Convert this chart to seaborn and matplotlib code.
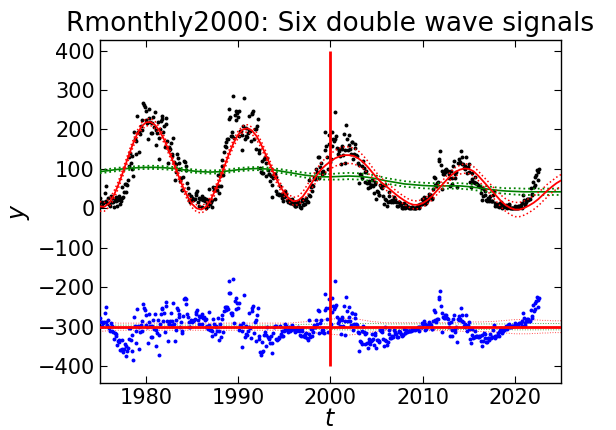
import numpy as np
import pandas as pd
import matplotlib
matplotlib.use("Agg")
import matplotlib.pyplot as plt
import seaborn as sns

# ---------------- data ----------------
start_year = 1975
# monthly observations (black dots), Jan 1975 onward
obs_1975_1984 = [
    26, 16, 16, 7, 13, 16, 39, 56, 19, 13, 27, 11,
    11, 6, 31, 26, 17, 17, 3, 23, 19, 29, 7, 21,
    23, 32, 12, 18, 26, 54, 30, 42, 62, 61, 41, 60,
    73, 131, 107, 140, 116, 133, 99, 81, 193, 175, 137, 172,
    233, 193, 193, 142, 188, 209, 223, 199, 268, 261, 257, 247,
    223, 217, 177, 230, 252, 220, 191, 190, 217, 231, 207, 244,
    160, 198, 190, 219, 179, 126, 201, 222, 234, 227, 193, 210,
    156, 229, 215, 171, 115, 155, 149, 151, 166, 133, 137, 178,
    118, 71, 93, 113, 139, 128, 115, 101, 70, 78, 47, 47,
    80, 120, 117, 98, 107, 65, 52, 36, 22, 17, 32, 26,
]
obs_1985_1994 = [
    23, 22, 24, 23, 39, 34, 43, 16, 5, 26, 23, 24,
    4, 32, 21, 26, 19, 2, 25, 10, 5, 50, 21, 10,
    15, 3, 21, 55, 46, 24, 46, 54, 47, 85, 56, 38,
    83, 56, 107, 123, 84, 143, 159, 156, 168, 175, 175, 251,
    226, 231, 184, 183, 194, 285, 178, 236, 247, 223, 242, 232,
    248, 183, 196, 196, 185, 148, 209, 280, 175, 204, 184, 182,
    192, 235, 199, 196, 170, 238, 243, 247, 175, 202, 151, 202,
    210, 226, 149, 140, 103, 91, 120, 90, 89, 124, 129, 116,
    83, 127, 98, 87, 86, 70, 81, 59, 30, 76, 88, 86,
    80, 44, 37, 37, 36, 33, 57, 34, 27, 37, 19, 29,
]
obs_1995_2004 = [
    32, 43, 36, 22, 15, 25, 18, 13, 14, 25, 14, 12,
    16, 7, 6, 7, 13, 18, 14, 11, 4, 1, 25, 19,
    8, 11, 12, 22, 26, 18, 15, 34, 72, 32, 55, 58,
    45, 56, 77, 75, 79, 99, 93, 129, 130, 78, 104, 115,
    87, 93, 96, 89, 149, 193, 159, 131, 100, 163, 186, 118,
    126, 158, 194, 176, 170, 175, 244, 183, 154, 139, 150, 146,
    134, 113, 159, 151, 135, 188, 115, 149, 211, 176, 149, 185,
    160, 150, 138, 169, 169, 124, 139, 163, 153, 136, 133, 114,
    111, 64, 86, 84, 77, 108, 119, 102, 68, 92, 94, 65,
    52, 64, 69, 55, 58, 60, 72, 57, 39, 67, 61, 25,
]
obs_2005_2014 = [
    44, 41, 34, 34, 60, 55, 56, 51, 31, 12, 25, 58,
    21, 7, 15, 42, 31, 19, 17, 18, 20, 15, 30, 19,
    24, 15, 6, 5, 16, 17, 14, 8, 3, 1, 2, 14,
    3, 2, 9, 3, 3, 3, 1, 0, 1, 3, 4, 1,
    2, 2, 1, 2, 4, 9, 8, 0, 10, 11, 10, 23,
    20, 29, 24, 10, 14, 19, 25, 30, 36, 34, 34, 25,
    27, 48, 79, 76, 58, 56, 65, 66, 120, 126, 145, 109,
    94, 48, 87, 86, 97, 92, 100, 95, 94, 77, 88, 57,
    96, 61, 78, 107, 120, 77, 86, 92, 55, 114, 114, 124,
    117, 146, 129, 113, 113, 103, 100, 107, 130, 90, 104, 113,
]
obs_2015_2022 = [
    93, 67, 55, 75, 89, 67, 66, 64, 79, 64, 62, 58,
    57, 56, 54, 38, 52, 21, 32, 50, 45, 33, 21, 19,
    26, 26, 18, 32, 19, 19, 18, 33, 44, 13, 6, 8,
    7, 11, 3, 9, 13, 16, 2, 9, 3, 5, 5, 3,
    8, 1, 9, 9, 10, 1, 1, 1, 1, 0, 1, 2,
    6, 0, 2, 5, 0, 6, 6, 8, 1, 14, 34, 22,
    10, 8, 17, 25, 21, 25, 23, 23, 51, 37, 35, 68,
    55, 60, 79, 84, 97, 71, 91, 99,
]

# fitted double-wave model (red), every half year 1975.0 .. 2025.0
fit_step = 0.5
model_red = [
    5, 4, 13, 32, 59, 91, 125, 158, 186, 207,
    218, 219, 211, 196, 173, 145, 115, 84, 55, 30,
    11, 0, -3, 4, 21, 45, 74, 106, 138, 166,
    187, 200, 203, 197, 183, 161, 135, 108, 81, 58,
    39, 25, 18, 20, 30, 47, 66, 84, 99, 110,
    119, 127, 132, 135, 135, 133, 127, 118, 106, 92,
    78, 66, 57, 47, 37, 28, 20, 13, 9, 9,
    13, 21, 31, 44, 57, 70, 82, 92, 98, 101,
    100, 94, 83, 70, 57, 44, 31, 18, 8, 1,
    -3, -3, 1, 7, 14, 23, 34, 45, 55, 64,
    71,
]
model_red_err = [
    12, 11, 10, 10, 9, 9, 9, 9, 9, 9,
    9, 9, 9, 9, 9, 9, 9, 9, 9, 9,
    9, 9, 9, 9, 9, 9, 9, 9, 9, 9,
    9, 9, 9, 9, 9, 9, 9, 9, 9, 9,
    9, 9, 10, 11, 12, 13, 14, 16, 17, 18,
    19, 20, 21, 21, 21, 20, 19, 17, 15, 13,
    12, 11, 10, 10, 10, 10, 10, 10, 10, 10,
    10, 10, 10, 10, 10, 10, 10, 11, 11, 12,
    12, 12, 12, 12, 13, 13, 14, 15, 16, 17,
    18, 18, 18, 18, 17, 17, 16, 16, 15, 15,
    15,
]
# slow trend component (green), yearly 1975 .. 2025
trend_green = [
    93, 96, 99, 101, 103, 104, 104, 103, 101, 98,
    95, 93, 92, 93, 95, 98, 100, 101, 100, 97,
    93, 89, 85, 82, 80, 80, 81, 82, 81, 79,
    75, 70, 66, 62, 60, 58, 57, 57, 57, 57,
    55, 52, 49, 46, 44, 43, 42, 42, 42, 42,
    42,
]
trend_green_err = [
    4, 4, 4, 4, 4, 4, 4, 4, 4, 4,
    4, 4, 4, 4, 4, 4, 4, 4, 4, 4,
    5, 5, 6, 6, 7, 7, 8, 8, 8, 8,
    8, 7, 7, 7, 7, 7, 7, 7, 7, 7,
    7, 7, 7, 7, 7, 8, 8, 8, 8, 8,
    8,
]
residual_offset = -300
split_year = 2000
split_span = [-400, 400]
xlim = [1975, 2025]
ylim = [-442, 428]
yticks = [-400, -300, -200, -100, 0, 100, 200, 300, 400]
xticks = [1980, 1990, 2000, 2010, 2020]

# ---------------- build tables ----------------
obs = np.array(obs_1975_1984 + obs_1985_1994 + obs_1995_2004
               + obs_2005_2014 + obs_2015_2022, dtype=float)
t_obs = start_year + (np.arange(len(obs)) + 0.5) / 12.0
red = np.array(model_red, dtype=float)
red_err = np.array(model_red_err, dtype=float)
t_red = start_year + fit_step * np.arange(len(red))
green = np.array(trend_green, dtype=float)
green_err = np.array(trend_green_err, dtype=float)
t_green = start_year + np.arange(len(green))

# residuals = data - model, shown around the offset line
resid = obs - np.interp(t_obs, t_red, red) + residual_offset

df_obs = pd.DataFrame({"t": t_obs, "y": obs})
df_res = pd.DataFrame({"t": t_obs, "y": resid})
df_red = pd.DataFrame({"t": t_red, "y": red, "lo": red - red_err, "hi": red + red_err,
                       "rlo": residual_offset - red_err, "rhi": residual_offset + red_err})
df_green = pd.DataFrame({"t": t_green, "y": green, "lo": green - green_err,
                         "hi": green + green_err,
                         "rlo": residual_offset - green_err,
                         "rhi": residual_offset + green_err})

# ---------------- plot ----------------
sns.set_style("ticks")
plt.rcParams["font.family"] = ["DejaVu Sans"]
plt.rcParams["mathtext.fontset"] = "dejavusans"
for key in ["text.color", "axes.labelcolor", "xtick.color", "ytick.color",
            "axes.edgecolor"]:
    plt.rcParams[key] = "black"

fig = plt.figure(figsize=(6.16, 4.30), dpi=100)
ax = fig.add_axes([0.162, 0.110, 0.749, 0.798])

kw_line = dict(ax=ax, estimator=None, sort=False, legend=False)

# observations
sns.scatterplot(data=df_obs, x="t", y="y", ax=ax, s=8, color="black",
                linewidth=0, legend=False, zorder=3)
# trend (green)
sns.lineplot(data=df_green, x="t", y="y", color="green", lw=1.2, zorder=4, **kw_line)
sns.lineplot(data=df_green, x="t", y="lo", color="green", lw=1.3, ls=":", zorder=4, **kw_line)
sns.lineplot(data=df_green, x="t", y="hi", color="green", lw=1.3, ls=":", zorder=4, **kw_line)
# model (red)
sns.lineplot(data=df_red, x="t", y="y", color="red", lw=1.3, zorder=5, **kw_line)
sns.lineplot(data=df_red, x="t", y="lo", color="red", lw=1.1, ls=":", zorder=5, **kw_line)
sns.lineplot(data=df_red, x="t", y="hi", color="red", lw=1.1, ls=":", zorder=5, **kw_line)

# residuals
sns.scatterplot(data=df_res, x="t", y="y", ax=ax, s=8, color="blue",
                linewidth=0, legend=False, zorder=3)
for col in ["rlo", "rhi"]:
    sns.lineplot(data=df_red, x="t", y=col, color="red", lw=0.7, ls=":",
                 alpha=0.7, zorder=2, **kw_line)
    sns.lineplot(data=df_green, x="t", y=col, color="green", lw=0.7, ls=":",
                 alpha=0.7, zorder=2, **kw_line)
ax.axhline(residual_offset, color="red", lw=2, zorder=4)
ax.vlines(split_year, split_span[0], split_span[1], color="red", lw=2, zorder=6)

ax.set_xlim(*xlim)
ax.set_ylim(*ylim)
ax.set_xticks(xticks)
ax.set_yticks(yticks)
ax.tick_params(direction="in", top=True, right=True, labelsize=15, length=5)
ax.tick_params(axis="x", pad=4)
for sp in ax.spines.values():
    sp.set_linewidth(1.0)
ax.set_xlabel("$t$", fontsize=17, labelpad=-1)
ax.set_ylabel("$y$", fontsize=17)
ax.set_title("Rmonthly2000: Six double wave signals", fontsize=19)

fig.savefig("out.png", dpi=100)
